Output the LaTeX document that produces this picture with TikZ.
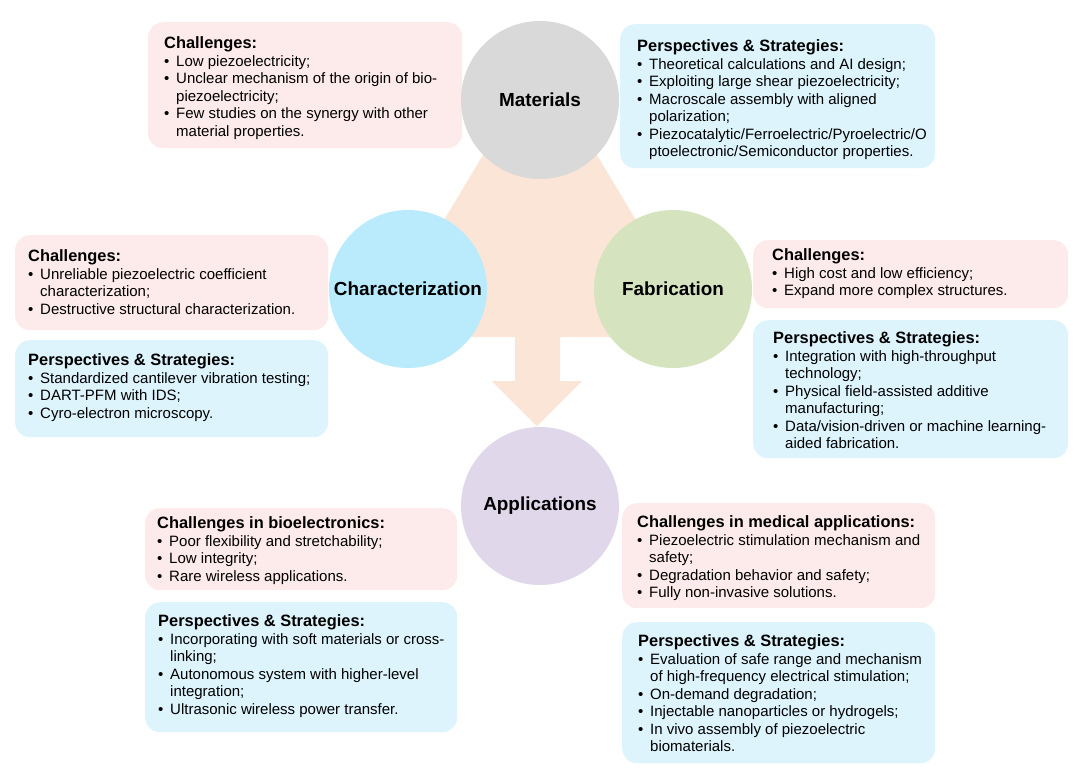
\documentclass[tikz,border=0pt]{standalone}
\usepackage{fontspec}
\setmainfont{Liberation Sans}
\newcommand{\hd}{\fontsize{16.4}{19}\selectfont\bfseries}
\newcommand{\bd}{\fontsize{15}{17.4}\selectfont}
\newcommand{\bl}{\makebox[12pt][l]{•}}
\newcommand{\ct}{\hspace*{12pt}}
\definecolor{chalc}{HTML}{FCEBEA}
\definecolor{persc}{HTML}{DDF4FD}
\definecolor{matc}{HTML}{D9D9D9}
\definecolor{charc}{HTML}{B9EBFC}
\definecolor{fabc}{HTML}{D6E3BF}
\definecolor{appc}{HTML}{E0D8EA}
\definecolor{flowc}{HTML}{FBE5D6}
\begin{document}
\begin{tikzpicture}[x=1pt,y=-1pt,
  chal/.style={fill=chalc, rounded corners=15pt, draw=none, anchor=north west, inner sep=0pt},
  pers/.style={fill=persc, rounded corners=15pt, draw=none, anchor=north west, inner sep=0pt},
  txt/.style={anchor=north west, inner sep=0pt, align=left, font=\bd},
  circ/.style={circle, minimum size=158pt, inner sep=0pt, font=\fontsize{18.9}{22}\selectfont\bfseries}
]
\useasboundingbox[fill=white] (0,0) rectangle (1080,777);

% flow shapes
\fill[flowc] (540,60) -- (374,337) -- (706,337) -- cycle;
\fill[flowc] (515,330) -- (560,330) -- (560,381) -- (582,381) -- (537,426) -- (492,381) -- (515,381) -- cycle;

% boxes
\node[chal, minimum width=314pt, minimum height=126pt] (mc) at (148,22) {};
\node[txt] (mct) at ([xshift=16pt,yshift=-14pt]mc.north west) {{\hd Challenges:}\\[1pt]
\bl Low piezoelectricity;\\
\bl Unclear mechanism of the origin of bio-\\
\ct piezoelectricity;\\
\bl Few studies on the synergy with other\\
\ct material properties.};

\node[pers, minimum width=315pt, minimum height=144pt] (mp) at (620,24) {};
\node[txt] (mpt) at ([xshift=17pt,yshift=-15pt]mp.north west) {{\hd Perspectives \& Strategies:}\\[1pt]
\bl Theoretical calculations and AI design;\\
\bl Exploiting large shear piezoelectricity;\\
\bl Macroscale assembly with aligned\\
\ct polarization;\\
\bl Piezocatalytic/Ferroelectric/Pyroelectric/O\\
\ct ptoelectronic/Semiconductor properties.};

\node[chal, minimum width=313pt, minimum height=95pt] (cc) at (15,235) {};
\node[txt] (cct) at ([xshift=13pt,yshift=-14pt]cc.north west) {{\hd Challenges:}\\[1pt]
\bl Unreliable piezoelectric coefficient\\
\ct characterization;\\
\bl Destructive structural characterization.};

\node[pers, minimum width=313pt, minimum height=97pt] (cp) at (15,340) {};
\node[txt] (cpt) at ([xshift=13pt,yshift=-13pt]cp.north west) {{\hd Perspectives \& Strategies:}\\[1pt]
\bl Standardized cantilever vibration testing;\\
\bl DART-PFM with IDS;\\
\bl Cyro-electron microscopy.};

\node[chal, minimum width=315pt, minimum height=68pt] (fc) at (753,240) {};
\node[txt] (fct) at ([xshift=19pt,yshift=-8pt]fc.north west) {{\hd Challenges:}\\[1pt]
\bl High cost and low efficiency;\\
\bl Expand more complex structures.};

\node[pers, minimum width=315pt, minimum height=138pt] (fp) at (753,320) {};
\node[txt] (fpt) at ([xshift=20pt,yshift=-11pt]fp.north west) {{\hd Perspectives \& Strategies:}\\[1pt]
\bl Integration with high-throughput\\
\ct technology;\\
\bl Physical field-assisted additive\\
\ct manufacturing;\\
\bl Data/vision-driven or machine learning-\\
\ct aided fabrication.};

\node[chal, minimum width=312pt, minimum height=82pt] (bc) at (145,508) {};
\node[txt] (bct) at ([xshift=12pt,yshift=-8pt]bc.north west) {{\hd Challenges in bioelectronics:}\\[1pt]
\bl Poor flexibility and stretchability;\\
\bl Low integrity;\\
\bl Rare wireless applications.};

\node[pers, minimum width=312pt, minimum height=130pt] (bp) at (145,602) {};
\node[txt] (bpt) at ([xshift=13pt,yshift=-12pt]bp.north west) {{\hd Perspectives \& Strategies:}\\[1pt]
\bl Incorporating with soft materials or cross-\\
\ct linking;\\
\bl Autonomous system with higher-level\\
\ct integration;\\
\bl Ultrasonic wireless power transfer.};

\node[chal, minimum width=313pt, minimum height=105pt] (dc) at (622,503) {};
\node[txt] (dct) at ([xshift=15pt,yshift=-12pt]dc.north west) {{\hd Challenges in medical applications:}\\[1pt]
\bl Piezoelectric stimulation mechanism and\\
\ct safety;\\
\bl Degradation behavior and safety;\\
\bl Fully non-invasive solutions.};

\node[pers, minimum width=313pt, minimum height=141pt] (dp) at (622,622) {};
\node[txt] (dpt) at ([xshift=16pt,yshift=-12pt]dp.north west) {{\hd Perspectives \& Strategies:}\\[1pt]
\bl Evaluation of safe range and mechanism\\
\ct of high-frequency electrical stimulation;\\
\bl On-demand degradation;\\
\bl Injectable nanoparticles or hydrogels;\\
\bl In vivo assembly of piezoelectric\\
\ct biomaterials.};

% circles
\node[circ, fill=matc] (mat) at (540,100) {Materials};
\node[circ, fill=charc] (cha) at (408,289) {Characterization};
\node[circ, fill=fabc] (fab) at (673,289) {Fabrication};
\node[circ, fill=appc] (app) at (540,506) {Applications};
\end{tikzpicture}
\end{document}
